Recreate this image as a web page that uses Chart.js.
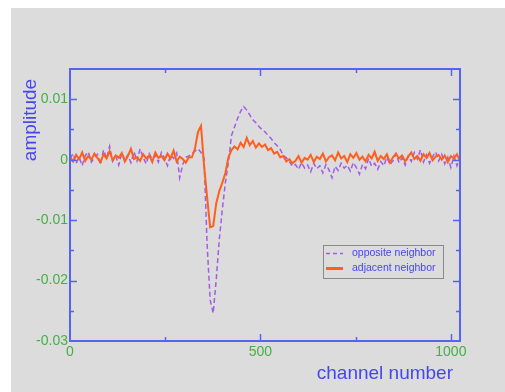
<!DOCTYPE html>
<html>
<head>
<meta charset="utf-8">
<script src="https://cdn.jsdelivr.net/npm/chart.js@4"></script>
<style>
html,body{margin:0;padding:0;background:#fff;}
canvas{display:block;}
</style>
</head>
<body>
<canvas id="c" width="505" height="392"></canvas>
<script>
// channel numbers (x values)
const channels = [
0,8,16,24,32,40,48,56,64,72,80,88,96,104,112,120,128,136,144,152,
160,168,176,184,192,200,208,216,224,232,240,248,256,264,272,280,288,296,304,312,
320,328,336,344,352,360,368,376,384,392,400,408,416,424,432,440,
448,456,464,472,480,488,496,504,512,520,528,536,544,552,560,568,576,584,
592,600,608,616,624,632,640,648,656,664,672,680,688,696,704,712,720,728,736,744,
752,760,768,776,784,792,800,808,816,824,832,840,848,856,864,872,880,888,896,904,
912,920,928,936,944,952,960,968,976,984,992,1000,1008,1016,1024
];
// opposite neighbor (purple dashed)
const opposite = [
0.0002,0.0010,-0.0006,0.0004,-0.0010,0.0007,0.0013,-0.0004,0.0003,0.0009,
-0.0008,0.0016,0.0002,0.0022,-0.0003,0.0006,-0.0009,0.0011,0.0000,0.0008,
-0.0005,0.0013,-0.0002,0.0018,0.0004,-0.0007,0.0010,0.0001,0.0007,-0.0004,
0.0012,0.0003,-0.0010,0.0008,0.0002,0.0011,-0.0030,-0.0008,0.0004,0.0006,
0.0010,0.0014,0.0018,0.0012,0.0002,-0.0140,-0.0232,-0.0254,-0.0198,-0.0132,-0.0082,-0.0038,-0.0004,0.0040,0.0054,0.0068,
0.0080,0.0088,0.0082,0.0074,0.0066,0.0061,0.0055,0.0050,0.0046,0.0040,0.0035,0.0028,0.0023,0.0017,0.0007,0.0003,-0.0003,-0.0011,
-0.0008,-0.0016,-0.0005,-0.0014,-0.0009,-0.0020,-0.0006,-0.0015,-0.0010,-0.0022,
-0.0008,-0.0017,-0.0030,-0.0011,-0.0018,-0.0006,-0.0014,-0.0009,-0.0019,-0.0005,
-0.0013,-0.0024,-0.0008,-0.0015,0.0002,-0.0011,-0.0006,-0.0016,-0.0003,-0.0010,
0.0004,-0.0008,-0.0002,0.0010,-0.0005,0.0003,-0.0009,0.0006,-0.0003,0.0012,
0.0001,0.0016,-0.0004,0.0008,-0.0006,0.0005,0.0013,-0.0002,0.0009,-0.0007,
0.0004,-0.0013,0.0006,-0.0010,0.0002
];
// adjacent neighbor (orange solid)
const adjacent = [
0.0005,-0.0003,0.0008,0.0001,0.0012,-0.0002,0.0006,0.0000,0.0010,0.0003,
-0.0004,0.0009,0.0002,0.0014,-0.0001,0.0007,0.0003,0.0011,-0.0003,0.0006,
0.0018,0.0001,0.0004,-0.0002,0.0009,0.0002,0.0007,-0.0004,0.0012,0.0003,
0.0006,-0.0001,0.0010,0.0002,0.0015,-0.0003,0.0005,0.0001,-0.0005,0.0004,
0.0004,0.0018,0.0046,0.0056,-0.0010,-0.0062,-0.0112,-0.0110,-0.0072,-0.0052,-0.0038,-0.0022,0.0004,0.0016,0.0022,0.0017,
0.0028,0.0021,0.0036,0.0024,0.0031,0.0020,0.0027,0.0021,0.0025,0.0016,0.0019,0.0010,0.0013,0.0004,0.0006,-0.0003,0.0001,-0.0006,
-0.0002,0.0006,-0.0005,0.0003,0.0000,0.0008,-0.0004,0.0005,0.0001,0.0010,
-0.0003,0.0004,0.0007,-0.0001,0.0012,0.0002,0.0006,-0.0004,0.0009,0.0003,
0.0011,0.0000,0.0005,-0.0003,0.0008,0.0002,0.0013,-0.0002,0.0006,0.0001,
0.0009,-0.0005,0.0004,0.0010,0.0002,0.0007,-0.0003,0.0005,0.0012,0.0001,
0.0006,-0.0002,0.0009,0.0003,0.0011,-0.0001,0.0005,0.0008,0.0000,0.0007,
-0.0004,0.0006,0.0002,0.0009,-0.0003
];
const seriesNames = ['opposite neighbor','adjacent neighbor'];
const xTickLabels = [0,500,1000];
const xMinorTicks = [250,750];
const yTickLabels = [0.01,0,-0.01,-0.02,-0.03];
const yMinorTicks = [0.005,-0.005,-0.015,-0.025];

const BLUE_AXIS = '#5563f5';
const BLUE_TEXT = '#4646f0';
const GREEN = '#44b044';
const PURPLE = '#a25ce6';
const ORANGE = '#ff5f1c';
const FONT = '"Liberation Sans", Arial, sans-serif';

const pts = arr => channels.map((c,i)=>({x:c,y:arr[i]}));

const decor = {
  id:'decor',
  beforeDraw(chart){
    const ctx = chart.ctx;
    ctx.save();
    ctx.fillStyle = '#ffffff';
    ctx.fillRect(0,0,chart.width,chart.height);
    ctx.fillStyle = '#dcdcdc';
    ctx.fillRect(11,8,chart.width-11,chart.height-8);
    ctx.restore();
  },
  afterDraw(chart){
    const ctx = chart.ctx;
    const a = chart.chartArea;
    const xs = chart.scales.x, ys = chart.scales.y;
    ctx.save();
    ctx.strokeStyle = BLUE_AXIS;
    ctx.lineWidth = 2;
    ctx.strokeRect(a.left, a.top, a.right-a.left, a.bottom-a.top);
    ctx.lineWidth = 1.5;
    ctx.beginPath();
    const xt = xTickLabels.map(v=>[v,7]).concat(xMinorTicks.map(v=>[v,4]));
    xt.forEach(([v,len])=>{
      if (v <= xs.min || v >= xs.max) return;
      const px = Math.round(xs.getPixelForValue(v))+0.5;
      ctx.moveTo(px,a.bottom); ctx.lineTo(px,a.bottom-len);
      ctx.moveTo(px,a.top); ctx.lineTo(px,a.top+len);
    });
    const yt = yTickLabels.map(v=>[v,7]).concat(yMinorTicks.map(v=>[v,4]));
    yt.forEach(([v,len])=>{
      if (v <= ys.min + 1e-9 || v >= ys.max - 1e-9) return;
      const py = Math.round(ys.getPixelForValue(v))+0.5;
      ctx.moveTo(a.left,py); ctx.lineTo(a.left+len,py);
      ctx.moveTo(a.right,py); ctx.lineTo(a.right-len,py);
    });
    ctx.stroke();

    // x tick labels
    ctx.fillStyle = GREEN;
    ctx.font = '14px ' + FONT;
    ctx.textAlign = 'center';
    ctx.textBaseline = 'top';
    xTickLabels.forEach(v=>{
      ctx.fillText(String(v), xs.getPixelForValue(v), a.bottom + 4);
    });

    // axis titles
    ctx.fillStyle = BLUE_TEXT;
    ctx.font = '19px ' + FONT;
    ctx.textBaseline = 'middle';
    ctx.textAlign = 'right';
    ctx.fillText('channel number', 453, 374);
    ctx.save();
    ctx.translate(31, 120);
    ctx.rotate(-Math.PI/2);
    ctx.textAlign = 'center';
    ctx.fillText('amplitude', 0, 0);
    ctx.restore();

    // legend
    const lx = 323, ly = 245, lw = 120, lh = 33;
    ctx.strokeStyle = '#8a8a8a';
    ctx.lineWidth = 1;
    ctx.strokeRect(lx+0.5, ly+0.5, lw, lh);
    const rows = [
      {y: ly+8.5, color: PURPLE, dash:[4,3], w:1.5},
      {y: ly+23.5, color: ORANGE, dash:[], w:3}
    ];
    ctx.font = '10.5px ' + FONT;
    ctx.textAlign = 'left';
    rows.forEach((r,i)=>{
      ctx.strokeStyle = r.color;
      ctx.lineWidth = r.w;
      ctx.setLineDash(r.dash);
      ctx.beginPath();
      ctx.moveTo(lx+3, r.y); ctx.lineTo(lx+20, r.y);
      ctx.stroke();
      ctx.setLineDash([]);
      ctx.fillStyle = BLUE_TEXT;
      ctx.fillText(seriesNames[i], lx+29, r.y);
    });
    ctx.restore();
  }
};

new Chart(document.getElementById('c'), {
  type:'line',
  data:{
    datasets:[
      {label: seriesNames[1], data: pts(adjacent), borderColor: ORANGE, borderWidth: 2, pointRadius:0, tension:0, order:0},
      {label: seriesNames[0], data: pts(opposite), borderColor: PURPLE, borderWidth: 1.5, borderDash:[5,3], pointRadius:0, tension:0, order:1}
    ]
  },
  options:{
    responsive:false,
    animation:false,
    devicePixelRatio:1,
    layout:{padding:{top:69,right:45,left:0,bottom:0}},
    plugins:{legend:{display:false},tooltip:{enabled:false}},
    scales:{
      x:{
        type:'linear', min:0, max:1024,
        grid:{display:false, drawTicks:false},
        border:{display:false},
        afterFit(s){ s.height = 51; },
        ticks:{display:false}
      },
      y:{
        type:'linear', min:-0.03, max:0.015,
        grid:{display:false, drawTicks:false},
        border:{display:false},
        afterFit(s){ s.width = 70; },
        ticks:{
          stepSize:0.005, padding:2, color: GREEN, autoSkip:false,
          font:{family: FONT, size:14},
          callback:(v)=>{
            const r = Math.round(v*100)/100;
            if (Math.abs(r - v) > 1e-7) return '';
            return yTickLabels.includes(r) || yTickLabels.includes(-r) ? String(r === 0 ? 0 : r) : '';
          }
        }
      }
    }
  },
  plugins:[decor]
});
</script>
</body>
</html>
